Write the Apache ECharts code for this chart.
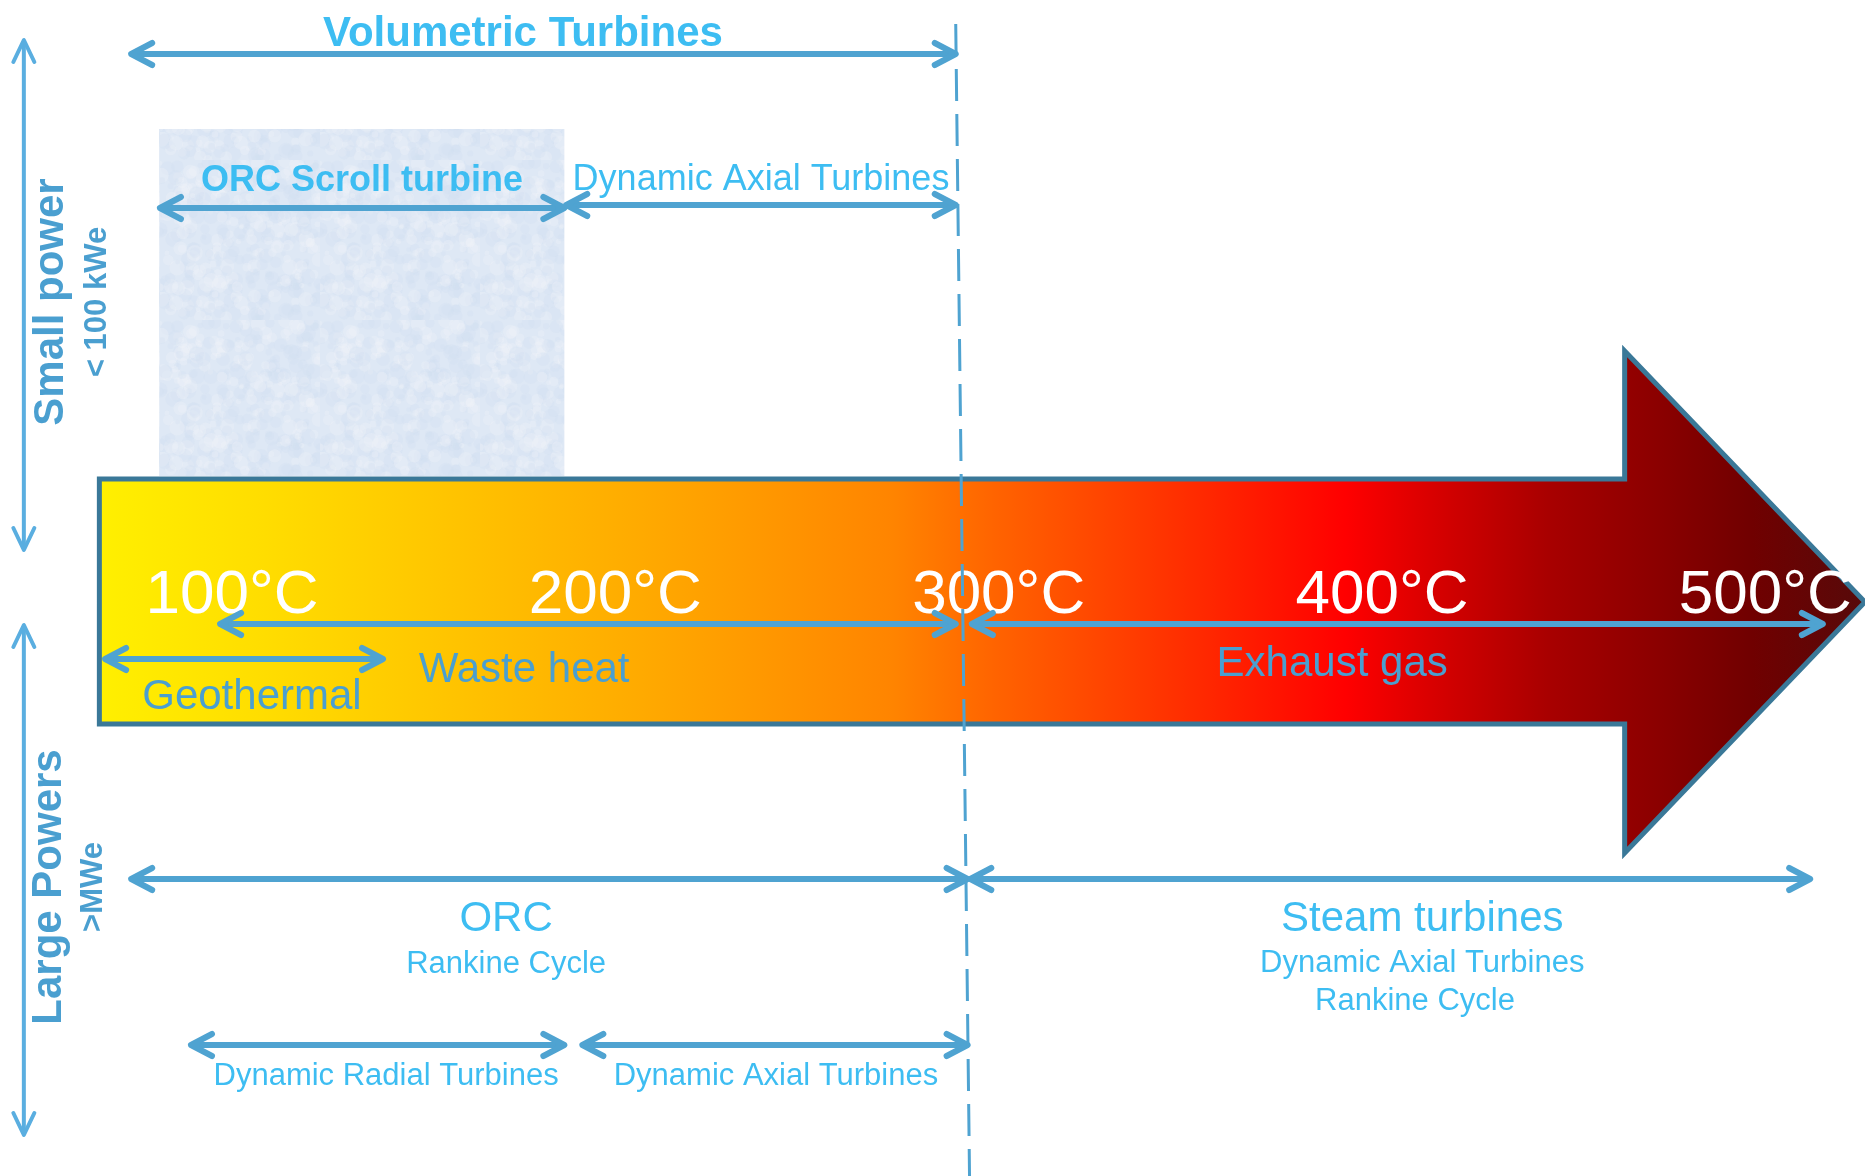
<!DOCTYPE html>
<html>
<head>
<meta charset="utf-8">
<title>ORC and steam turbines by heat source temperature</title>
<script src="https://cdn.jsdelivr.net/npm/echarts@6/dist/echarts.min.js"></script>
<style>
  html, body { margin: 0; padding: 0; background: #fff; }
  #chart { width: 1865px; height: 1176px; }
</style>
</head>
<body>
<div id="chart"></div>
<script>
// temperature marks along the heat arrow (°C)
const tempTicks = [100, 200, 300, 400, 500];
const tempLabels = ['100°C', '200°C', '300°C', '400°C', '500°C'];

// heat arrow: tail, start of head, tip (°C)
const heatArrow = [65.4, 463.3, 526];

// limit between ORC and steam, dashed (°C at top, °C at bottom)
const boundary = [288.8, 292.4];

// scroll turbine picture (°C)
const scrollBand = [81.0, 186.7];

// double arrows: temperature ranges (°C)
const rangeNames = ['Volumetric Turbines', 'ORC Scroll turbine', 'Dynamic Axial Turbines', 'Geothermal',
  'Waste heat', 'Exhaust gas', 'ORC', 'Steam turbines', 'Dynamic Radial Turbines', 'Dynamic Axial Turbines'];
const rangeStart = [73.7, 81.2, 187.2, 66.9, 96.9, 293.0, 73.7, 292.6, 89.3, 191.4];
const rangeEnd = [288.8, 186.7, 288.8, 139.4, 288.8, 515.0, 291.9, 511.7, 186.7, 291.9];
const rangeRow = ['volumetric', 'scroll', 'axialTop', 'geo', 'heat', 'heat', 'large', 'large', 'dyn', 'dyn'];

// texts and where they sit (°C)
const labelText = ['Volumetric Turbines', 'ORC Scroll turbine', 'Dynamic Axial Turbines', 'Geothermal',
  'Waste heat', 'Exhaust gas', 'ORC', 'Rankine Cycle', 'Steam turbines', 'Dynamic Axial Turbines',
  'Rankine Cycle', 'Dynamic Radial Turbines', 'Dynamic Axial Turbines'];
const labelTemp = [175.9, 133.9, 238.0, 105.2, 176.2, 387.0, 171.5, 171.5, 410.5, 410.5, 408.6, 140.2, 241.9];
const labelKind = ['title', 'head', 'sub', 'source', 'source', 'source', 'big', 'small', 'big', 'small',
  'small', 'small', 'small'];

// power classes on the left
const powerNames = ['Small power', 'Large Powers'];
const powerRanges = ['< 100 kWe', '>MWe'];

// ---------------------------------------------------------------- layout
const ROW = {
  volumetric: 54, scroll: 208, axialTop: 205, geo: 659, heat: 624, large: 879, dyn: 1045,
  band: [129, 476], body: [479, 724], head: [351, 853], tip: 602, dash: [24, 1176], temp: 596
};
const LABEL_Y = [34, 181, 180, 697, 670, 664, 919, 964, 919, 963, 1001, 1076, 1076];
const POWER = { arrowT: 45.7, arrows: [[40, 550], [625, 1135]],
  nameT: [53.0, 52.4], rangeT: [64.8, 63.9], y: [302, 887] };

const FONT = "'Liberation Sans', Arial, sans-serif";
const BRIGHT = '#3DBDF2';
const STEEL = '#4A9FD0';
const ARROW = '#4FA3D1';
const KIND = {
  title: { size: 42, weight: 'bold', color: BRIGHT },
  head: { size: 36, weight: 'bold', color: BRIGHT },
  sub: { size: 36, weight: 'normal', color: BRIGHT },
  source: { size: 42, weight: 'normal', color: STEEL },
  big: { size: 42, weight: 'normal', color: BRIGHT },
  small: { size: 31, weight: 'normal', color: BRIGHT }
};

// soft mottled light blue texture for the scroll turbine picture
function makeTexture() {
  const c = document.createElement('canvas');
  c.width = 160;
  c.height = 160;
  const ctx = c.getContext('2d');
  ctx.fillStyle = '#DEE8F5';
  ctx.fillRect(0, 0, 160, 160);
  let s = 11;
  const next = () => { s = (s * 16807) % 2147483647; return s / 2147483647; };
  for (let k = 0; k < 420; k++) {
    const x = next() * 160, y = next() * 160, r = 2 + next() * 6;
    ctx.fillStyle = next() < 0.5 ? 'rgba(208,223,241,0.28)' : 'rgba(238,243,250,0.32)';
    ctx.beginPath();
    ctx.arc(x, y, r, 0, Math.PI * 2);
    ctx.fill();
  }
  return c;
}

function chevron(tip, u, back, half) {
  const bx = tip[0] - u[0] * back, by = tip[1] - u[1] * back;
  return [[bx - u[1] * half, by + u[0] * half], tip, [bx + u[1] * half, by - u[0] * half]];
}

function doubleArrow(p1, p2, width, color, back, half) {
  const dx = p2[0] - p1[0], dy = p2[1] - p1[1];
  const len = Math.hypot(dx, dy);
  const u = [dx / len, dy / len];
  const st = { stroke: color, lineWidth: width, lineCap: 'round', lineJoin: 'round', fill: 'none' };
  return {
    type: 'group',
    children: [
      { type: 'line', shape: { x1: p1[0] + u[0] * 2, y1: p1[1] + u[1] * 2, x2: p2[0] - u[0] * 2, y2: p2[1] - u[1] * 2 }, style: st },
      { type: 'polyline', shape: { points: chevron(p2, u, back, half) }, style: st },
      { type: 'polyline', shape: { points: chevron(p1, [-u[0], -u[1]], back, half) }, style: st }
    ]
  };
}

const texture = makeTexture();
const chart = echarts.init(document.getElementById('chart'), null, { renderer: 'canvas' });

const option = {
  animation: false,
  backgroundColor: '#ffffff',
  grid: { left: 2, right: 0, top: 0, bottom: 0 },
  xAxis: { type: 'value', min: 40, max: 526, show: false },
  yAxis: { type: 'value', min: 0, max: 1176, inverse: true, show: false },
  series: [
    {
      // scroll turbine picture behind
      type: 'custom',
      silent: true,
      data: [scrollBand],
      renderItem: (params, api) => {
        const a = api.coord([scrollBand[0], ROW.band[0]]);
        const b = api.coord([scrollBand[1], ROW.band[1]]);
        return {
          type: 'rect',
          shape: { x: a[0], y: a[1], width: b[0] - a[0], height: b[1] - a[1] },
          style: { fill: { image: texture, repeat: 'repeat' } }
        };
      }
    },
    {
      // heat arrow
      type: 'custom',
      silent: true,
      data: [heatArrow],
      renderItem: (params, api) => {
        const [t0, th, tt] = heatArrow;
        const pts = [
          [t0, ROW.body[0]], [th, ROW.body[0]], [th, ROW.head[0]], [tt, ROW.tip],
          [th, ROW.head[1]], [th, ROW.body[1]], [t0, ROW.body[1]]
        ].map((p) => api.coord(p));
        return {
          type: 'polygon',
          shape: { points: pts },
          style: {
            fill: new echarts.graphic.LinearGradient(0, 0, 1, 0, [
              { offset: 0, color: '#FFF000' },
              { offset: 0.1, color: '#FFDC00' },
              { offset: 0.3, color: '#FFAC00' },
              { offset: 0.45, color: '#FF8400' },
              { offset: 0.51, color: '#FF6200' },
              { offset: 0.57, color: '#FF4400' },
              { offset: 0.63, color: '#FF2600' },
              { offset: 0.705, color: '#FF0000' },
              { offset: 0.765, color: '#D00000' },
              { offset: 0.82, color: '#A80000' },
              { offset: 0.88, color: '#8C0000' },
              { offset: 0.935, color: '#700000' },
              { offset: 1, color: '#560A0A' }
            ]),
            stroke: '#3A7898',
            lineWidth: 5,
            lineJoin: 'miter'
          }
        };
      }
    },
    {
      // temperature marks
      type: 'custom',
      silent: true,
      data: tempTicks.map((t) => [t, ROW.temp]),
      renderItem: (params, api) => {
        const p = api.coord([tempTicks[params.dataIndex], ROW.temp]);
        return {
          type: 'text', x: p[0], y: p[1],
          style: {
            text: tempLabels[params.dataIndex], fill: '#ffffff', fontSize: 62, fontFamily: FONT,
            align: 'center', verticalAlign: 'middle'
          }
        };
      }
    },
    {
      // range arrows
      type: 'custom',
      silent: true,
      data: rangeStart.map((s, i) => [s, rangeEnd[i]]),
      renderItem: (params, api) => {
        const i = params.dataIndex;
        const y = ROW[rangeRow[i]];
        return doubleArrow(api.coord([rangeStart[i], y]), api.coord([rangeEnd[i], y]), 6, ARROW, 21, 11);
      }
    },
    {
      // texts
      type: 'custom',
      silent: true,
      data: labelTemp.map((t, i) => [t, LABEL_Y[i]]),
      renderItem: (params, api) => {
        const i = params.dataIndex;
        const k = KIND[labelKind[i]];
        const p = api.coord([labelTemp[i], LABEL_Y[i]]);
        return {
          type: 'text', x: p[0], y: p[1],
          style: {
            text: labelText[i], fill: k.color, fontSize: k.size, fontWeight: k.weight, fontFamily: FONT,
            align: 'center', verticalAlign: 'middle'
          }
        };
      }
    },
    {
      // power classes
      type: 'custom',
      silent: true,
      data: powerNames.map((n, i) => [POWER.nameT[i], POWER.y[i]]),
      renderItem: (params, api) => {
        const i = params.dataIndex;
        const ends = POWER.arrows[i];
        const name = api.coord([POWER.nameT[i], POWER.y[i]]);
        const range = api.coord([POWER.rangeT[i], POWER.y[i]]);
        return {
          type: 'group',
          children: [
            doubleArrow(api.coord([POWER.arrowT, ends[0]]), api.coord([POWER.arrowT, ends[1]]), 4, '#5AAEE0', 22, 10.5),
            {
              type: 'text', x: name[0], y: name[1], rotation: Math.PI / 2,
              style: {
                text: powerNames[i], fill: STEEL, fontSize: 42, fontWeight: 'bold', fontFamily: FONT,
                align: 'center', verticalAlign: 'middle'
              }
            },
            {
              type: 'text', x: range[0], y: range[1], rotation: Math.PI / 2,
              style: {
                text: powerRanges[i], fill: STEEL, fontSize: 31, fontWeight: 'bold', fontFamily: FONT,
                align: 'center', verticalAlign: 'middle'
              }
            }
          ]
        };
      }
    },
    {
      // ORC / steam limit
      type: 'custom',
      silent: true,
      data: [boundary],
      renderItem: (params, api) => {
        const a = api.coord([boundary[0], ROW.dash[0]]);
        const b = api.coord([boundary[1], ROW.dash[1]]);
        return {
          type: 'line',
          shape: { x1: a[0], y1: a[1], x2: b[0], y2: b[1] },
          style: { stroke: ARROW, lineWidth: 3, lineDash: [32, 13] }
        };
      }
    }
  ]
};

chart.setOption(option);
</script>
</body>
</html>
